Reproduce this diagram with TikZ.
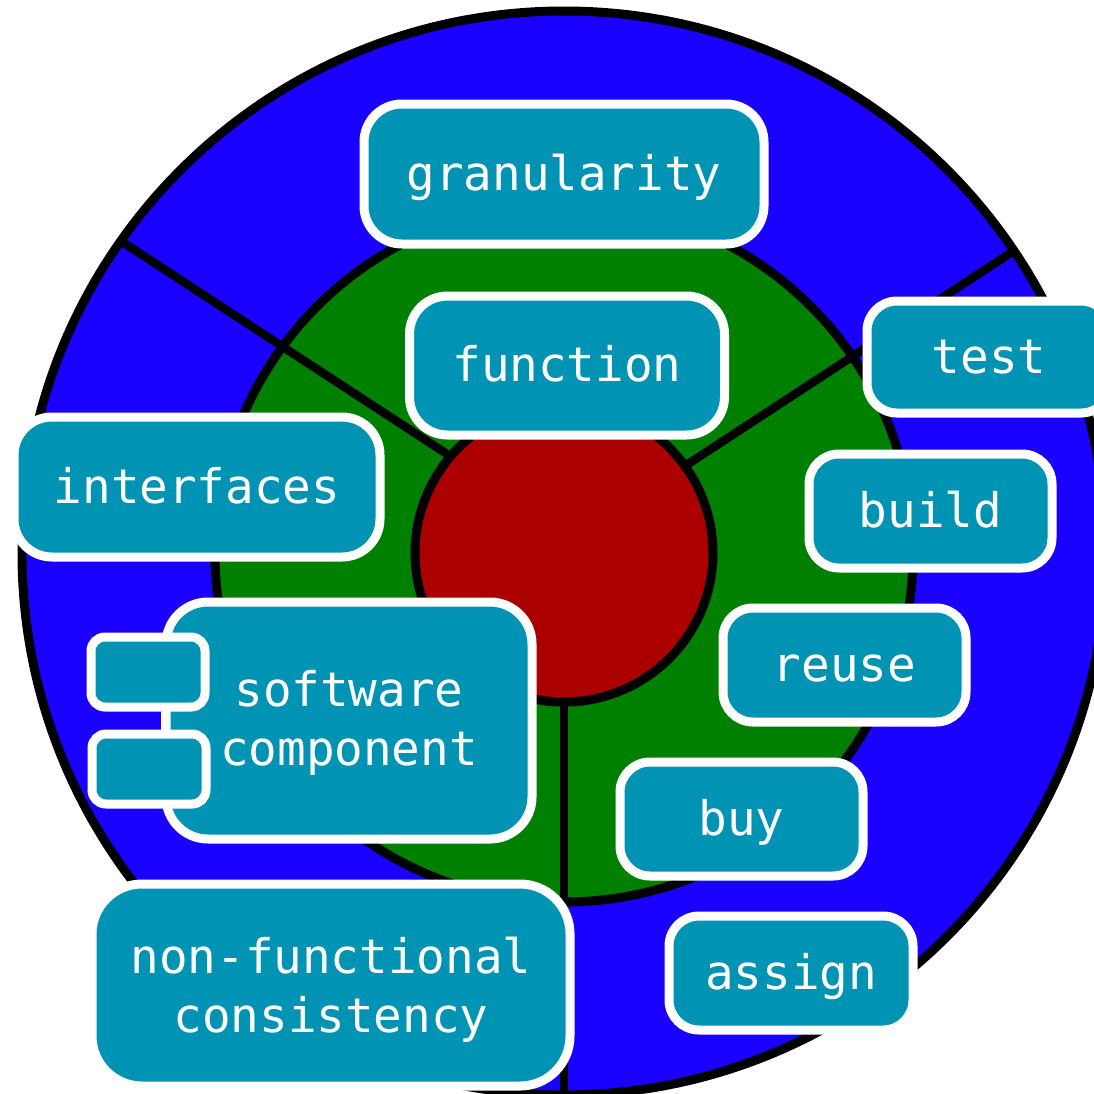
\documentclass[tikz,border=0pt]{standalone}
\usepackage{fontspec}
\setmainfont{DejaVu Sans Mono}
\definecolor{ringblue}{HTML}{1900FF}
\definecolor{ringgreen}{HTML}{008000}
\definecolor{ringred}{HTML}{AA0000}
\definecolor{teal}{HTML}{0093B4}
\tikzset{
  ring/.style={circle,draw=black,line width=9pt,inner sep=0pt},
  spoke/.style={draw=black,line width=8.5pt},
  tag/.style={rectangle,rounded corners=30pt,draw=white,fill=teal,line width=9pt,text=white,align=center,inner sep=0pt,font=\fontsize{47.6}{59}\selectfont},
  oneline/.style={text height=40pt,text depth=8pt},
  port/.style={rectangle,rounded corners=14pt,draw=white,fill=teal,line width=9pt,inner sep=0pt,minimum width=114pt,minimum height=70pt},
}
\begin{document}
\begin{tikzpicture}[x=1pt,y=-1pt]
\useasboundingbox (0,0) rectangle (1094,1093);
\clip (0,0) rectangle (1094,1093);
\node[ring,fill=ringblue,minimum size=1084pt] (outer) at (564,553) {};
\node[ring,fill=ringgreen,minimum size=698pt] (middle) at (564,553) {};
\coordinate (a1) at (124,243);
\coordinate (a2) at (450,456);
\coordinate (b1) at (1012,252);
\coordinate (b2) at (688,464);
\coordinate (c1) at (564,1093);
\coordinate (c2) at (564,700);
\draw[spoke] (a1) -- (a2);
\draw[spoke] (b1) -- (b2);
\draw[spoke] (c1) -- (c2);
\node[ring,fill=ringred,minimum size=298pt] (hub) at (564,553) {};
\node[tag,oneline,rounded corners=38pt,minimum width=400pt,minimum height=140pt] (granularity) at (564,174) {granularity};
\node[tag,oneline,rounded corners=38pt,minimum width=315pt,minimum height=139pt] (function) at (567,365.5) {function};
\node[tag,oneline,minimum width=244pt,minimum height=112pt] (test) at (989,357) {test};
\node[tag,oneline,rounded corners=38pt,minimum width=366pt,minimum height=140pt] (interfaces) at (197,487) {interfaces};
\node[tag,oneline,minimum width=243pt,minimum height=114pt] (build) at (930.5,511) {build};
\node[tag,oneline,minimum width=243pt,minimum height=114pt] (reuse) at (844.5,665) {reuse};
\node[tag,oneline,minimum width=243pt,minimum height=114pt] (buy) at (741.5,819) {buy};
\node[tag,oneline,minimum width=244pt,minimum height=114pt] (assign) at (791,973) {assign};
\node[tag,rounded corners=42pt,minimum width=366pt,minimum height=237pt] (software) at (349,720.5) {\rule{0pt}{40pt}software\\component};
\node[tag,rounded corners=50pt,minimum width=478pt,minimum height=202pt] (nonfunc) at (331,985) {\rule{0pt}{46pt}non-functional\\consistency};
\node[port] (p1) at (148,672) {};
\node[port] (p2) at (149,769) {};
\draw[white,line width=9pt] ([xshift=17pt]p1.south) -- ([xshift=16pt]p2.north);
\end{tikzpicture}
\end{document}
